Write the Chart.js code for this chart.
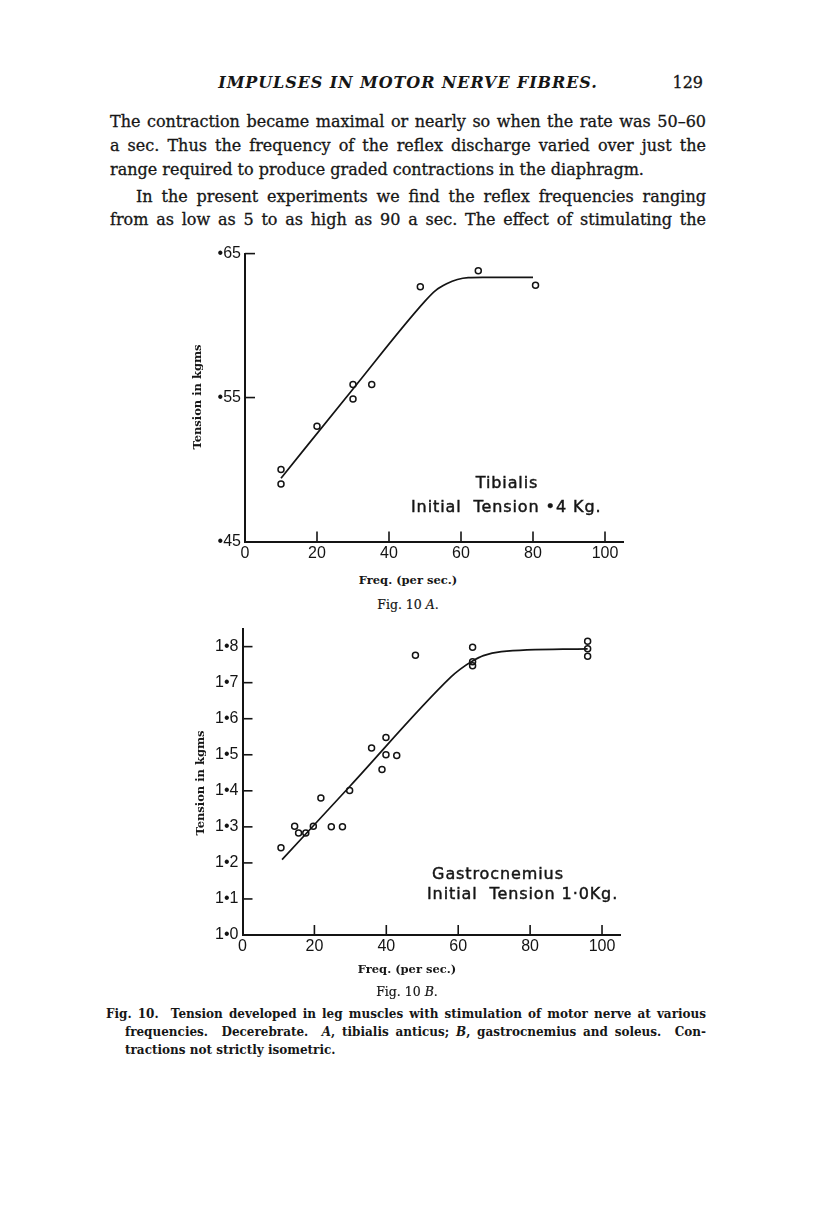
<!DOCTYPE html>
<html>
<head>
<meta charset="utf-8">
<script src="https://cdn.jsdelivr.net/npm/chart.js@4/dist/chart.umd.min.js"></script>
<style>
  body { margin: 0; background: #fff; }
  #page { position: relative; width: 816px; height: 1221px; overflow: hidden; background: #fff; color: #161616; }
  .tx { position: absolute; white-space: nowrap; font-family: "DejaVu Serif", serif; }
  .body { font-size: 16px; line-height: 20px; left: 110px; width: 596px; text-align: justify; text-align-last: justify; -webkit-text-stroke: 0.3px #161616; }
  .cap { font-size: 12px; line-height: 16px; font-weight: bold; text-align: justify; text-align-last: justify; }
  .axt { font-size: 11.5px; font-weight: bold; line-height: 14px; text-align: center; }
  .fig { font-size: 12.5px; line-height: 14px; text-align: center; -webkit-text-stroke: 0.2px #161616; }
  .note { font-family: "DejaVu Sans", sans-serif; font-size: 16px; letter-spacing: 0.9px; line-height: 18px; -webkit-text-stroke: 0.45px #161616; }
  canvas { position: absolute; }
</style>
</head>
<body>
<div id="page">
  <div class="tx" style="left:208px; top:73px; width:400px; text-align:center; font-style:italic; font-weight:bold; font-size:16px; letter-spacing:0.9px;">IMPULSES IN MOTOR NERVE FIBRES.</div>
  <div class="tx" style="left:667px; top:73px; width:36px; text-align:right; font-size:16px; -webkit-text-stroke:0.3px #161616;">129</div>

  <div class="tx body" style="top:112px;">The contraction became maximal or nearly so when the rate was 50–60</div>
  <div class="tx body" style="top:136px;">a sec. Thus the frequency of the reflex discharge varied over just the</div>
  <div class="tx body" style="top:160px; text-align-last:left;">range required to produce graded contractions in the diaphragm.</div>
  <div class="tx body" style="top:187px; left:136px; width:570px;">In the present experiments we find the reflex frequencies ranging</div>
  <div class="tx body" style="top:210px;">from as low as 5 to as high as 90 a sec. The effect of stimulating the</div>

  <canvas id="chartA" width="470" height="330" style="left:170px; top:240px;"></canvas>
  <div class="tx axt" style="left:140px; top:390px; width:114px; transform:rotate(-90deg);">Tension in kgms</div>
  <div class="tx note" style="left:437px; top:474px; width:140px; text-align:center;">Tibialis</div>
  <div class="tx note" style="left:411px; top:498px;">Initial&nbsp; Tension •4 Kg.</div>
  <div class="tx axt" style="left:328px; top:573px; width:160px;">Freq. (per sec.)</div>
  <div class="tx fig" style="left:328px; top:598px; width:160px;">Fig. 10 <i>A</i>.</div>

  <canvas id="chartB" width="470" height="350" style="left:170px; top:615px;"></canvas>
  <div class="tx axt" style="left:143px; top:776px; width:114px; transform:rotate(-90deg);">Tension in kgms</div>
  <div class="tx note" style="left:428px; top:865px; width:140px; text-align:center;">Gastrocnemius</div>
  <div class="tx note" style="left:427px; top:885px;">Initial&nbsp; Tension 1·0Kg.</div>
  <div class="tx axt" style="left:327px; top:962px; width:160px;">Freq. (per sec.)</div>
  <div class="tx fig" style="left:327px; top:985px; width:160px;">Fig. 10 <i>B</i>.</div>

  <div class="tx cap" style="left:106px; top:1006px; width:600px;">Fig. 10.&nbsp; Tension developed in leg muscles with stimulation of motor nerve at various</div>
  <div class="tx cap" style="left:125px; top:1024px; width:581px;">frequencies.&nbsp; Decerebrate.&nbsp; <i>A</i>, tibialis anticus; <i>B</i>, gastrocnemius and soleus.&nbsp; Con-</div>
  <div class="tx cap" style="left:125px; top:1042px; text-align-last:left;">tractions not strictly isometric.</div>
</div>

<script>
// shared frequency axis
const freqTicks  = [0, 20, 40, 60, 80, 100];
const freqLabels = ["0", "20", "40", "60", "80", "100"];

// Fig. 10 A - tibialis, initial tension .4 kg
const tibFreq    = [10, 10, 20, 30, 30, 35.2, 48.7, 64.8, 80.7];
const tibTension = [0.500, 0.490, 0.530, 0.559, 0.549, 0.559, 0.627, 0.638, 0.628];
const tibCurveFreq    = [10, 30, 50, 53, 56, 59, 62, 66, 80];
const tibCurveTension = [0.494, 0.556, 0.617, 0.6245, 0.629, 0.632, 0.6333, 0.6335, 0.6335];
const tibTicks  = [0.45, 0.55, 0.65];
const tibLabels = ["•45", "•55", "•65"];

// Fig. 10 B - gastrocnemius, initial tension 1.0 kg
const gasFreq    = [10.7, 14.5, 15.6, 17.6, 19.7, 21.8, 24.7, 27.8, 29.8, 35.9, 38.8, 39.9, 39.9, 42.9, 48.1, 64, 64, 64, 96, 96, 96];
const gasTension = [1.242, 1.302, 1.283, 1.283, 1.302, 1.380, 1.300, 1.300, 1.401, 1.519, 1.459, 1.548, 1.500, 1.498, 1.776, 1.798, 1.758, 1.747, 1.815, 1.794, 1.773];
const gasCurveFreq    = [11, 30, 58, 60.5, 64, 67, 72, 96];
const gasCurveTension = [1.209, 1.414, 1.716, 1.737, 1.760, 1.775, 1.786, 1.794];
const gasTicks  = [1.0, 1.1, 1.2, 1.3, 1.4, 1.5, 1.6, 1.7, 1.8];
const gasLabels = ["1•0", "1•1", "1•2", "1•3", "1•4", "1•5", "1•6", "1•7", "1•8"];

const ink = "#141414";
const tickFont = { family: "'Liberation Sans', Arial, sans-serif", size: 16 };

// short tick marks pointing into the plot, like the printed figure
const innerTicks = {
  id: "innerTicks",
  afterDraw(chart) {
    const { ctx, chartArea, scales: { x, y } } = chart;
    ctx.save();
    ctx.strokeStyle = ink;
    ctx.lineWidth = 1.6;
    x.ticks.forEach(t => {
      if (t.value === x.min) return;
      const px = x.getPixelForValue(t.value);
      ctx.beginPath();
      ctx.moveTo(px, chartArea.bottom);
      ctx.lineTo(px, chartArea.bottom - 10);
      ctx.stroke();
    });
    y.ticks.forEach(t => {
      if (t.value === y.min) return;
      const py = y.getPixelForValue(t.value);
      ctx.beginPath();
      ctx.moveTo(chartArea.left, py);
      ctx.lineTo(chartArea.left + 10, py);
      ctx.stroke();
    });
    ctx.restore();
  }
};

function makeChart(id, c) {
  const points = c.freq.map((f, i) => ({ x: f, y: c.tension[i] }));
  const curve  = c.curveFreq.map((f, i) => ({ x: f, y: c.curveTension[i] }));
  return new Chart(document.getElementById(id).getContext("2d"), {
    type: "scatter",
    data: {
      datasets: [{
        label: "observed",
        data: points,
        pointRadius: 3,
        pointBorderWidth: 1.5,
        pointBorderColor: ink,
        pointBackgroundColor: "rgba(255,255,255,0)",
        order: 1
      }, {
        label: "curve",
        data: curve,
        showLine: true,
        pointRadius: 0,
        borderColor: ink,
        borderWidth: 1.7,
        cubicInterpolationMode: "monotone",
        order: 2
      }]
    },
    options: {
      responsive: false,
      animation: false,
      layout: { padding: c.padding },
      plugins: { legend: { display: false }, tooltip: { enabled: false } },
      scales: {
        x: {
          type: "linear",
          min: 0,
          max: 105,
          afterBuildTicks: s => { s.ticks = freqTicks.map(v => ({ value: v })); },
          afterFit: s => { s.height = c.xHeight; },
          ticks: {
            callback: (v, i) => freqLabels[i],
            autoSkip: false,
            maxRotation: 0,
            padding: 2,
            color: ink,
            font: tickFont
          },
          grid: { display: false, drawTicks: false },
          border: { display: true, color: ink, width: 2 }
        },
        y: {
          type: "linear",
          min: c.yMin,
          max: c.yMax,
          afterBuildTicks: s => { s.ticks = c.yTicks.map(v => ({ value: v })); },
          afterFit: s => { s.width = c.yWidth; },
          ticks: {
            callback: (v, i) => c.yLabels[i],
            autoSkip: false,
            padding: 4,
            color: ink,
            font: tickFont
          },
          grid: { display: false, drawTicks: false },
          border: { display: true, color: ink, width: 2 }
        }
      }
    },
    plugins: [innerTicks]
  });
}

makeChart("chartA", {
  freq: tibFreq, tension: tibTension,
  curveFreq: tibCurveFreq, curveTension: tibCurveTension,
  yMin: 0.45, yMax: 0.65, yTicks: tibTicks, yLabels: tibLabels,
  yWidth: 75, xHeight: 28.5,
  padding: { top: 10, right: 17, left: 0, bottom: 0 }
});

makeChart("chartB", {
  freq: gasFreq, tension: gasTension,
  curveFreq: gasCurveFreq, curveTension: gasCurveTension,
  yMin: 1.0, yMax: 1.85, yTicks: gasTicks, yLabels: gasLabels,
  yWidth: 72.5, xHeight: 30,
  padding: { top: 12, right: 20, left: 0, bottom: 0 }
});
</script>
</body>
</html>
